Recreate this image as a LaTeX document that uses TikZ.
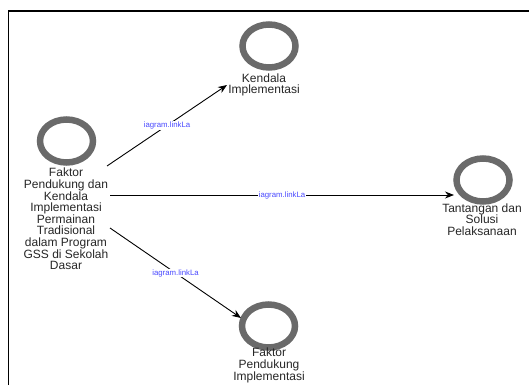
\documentclass[tikz,border=0pt]{standalone}
\usepackage{fontspec}
\setmainfont{Liberation Sans}
\usetikzlibrary{arrows.meta,shapes.geometric}
\definecolor{ringgray}{HTML}{6A6A6A}
\definecolor{linkblue}{HTML}{4A4AFF}
\tikzset{
  ring/.style={ellipse, draw=ringgray, line width=6.5pt, minimum width=53pt, minimum height=43pt, inner sep=0pt},
  caption/.style={align=center, text=black!85, inner sep=0pt, font=\fontsize{12}{11.6}\selectfont},
  link/.style={draw=black, line width=0.9pt, -{Stealth[length=9pt,width=7pt]}},
  linklabel/.style={fill=white, text=linkblue, inner sep=0.6pt, font=\fontsize{7.8}{8}\selectfont}
}
\begin{document}
\begin{tikzpicture}[x=1pt,y=-1pt]
  \useasboundingbox (0,0) rectangle (529,385);
  % page frame (top and left edges)
  \draw[line width=1.6pt] (8.5,385) -- (8.5,11) -- (529,11);

  % main topic
  \node[ring] (main) at (66.5,141) {};
  \node[caption, anchor=north] (maintxt) at (66,168)
    {Faktor\\Pendukung dan\\Kendala\\Implementasi\\Permainan\\Tradisional\\dalam Program\\GSS di Sekolah\\Dasar};

  % sub topics
  \node[ring] (kendala) at (269,46) {};
  \node[caption, anchor=north] (kendalatxt) at (264,73.5) {Kendala\\Implementasi};

  \node[ring] (tantangan) at (483,180) {};
  \node[caption, anchor=north] (tantangantxt) at (482,203.5) {Tantangan dan\\Solusi\\Pelaksanaan};

  \node[ring] (pendukung) at (268.5,326) {};
  \node[caption, anchor=north] (pendukungtxt) at (269,348) {Faktor\\Pendukung\\Implementasi};

  % connector end points
  \coordinate (s1) at (107,166);
  \coordinate (s2) at (110,195);
  \coordinate (s3) at (110,228);
  \coordinate (e1) at (227,85);
  \coordinate (e2) at (454,195);
  \coordinate (e3) at (241,318);

  \draw[link] (s1) -- node[linklabel, pos=0.5] {iagram.linkLa} (e1);
  \draw[link] (s2) -- node[linklabel, pos=0.5] {iagram.linkLa} (e2);
  \draw[link] (s3) -- node[linklabel, pos=0.5] {iagram.linkLa} (e3);
\end{tikzpicture}
\end{document}
